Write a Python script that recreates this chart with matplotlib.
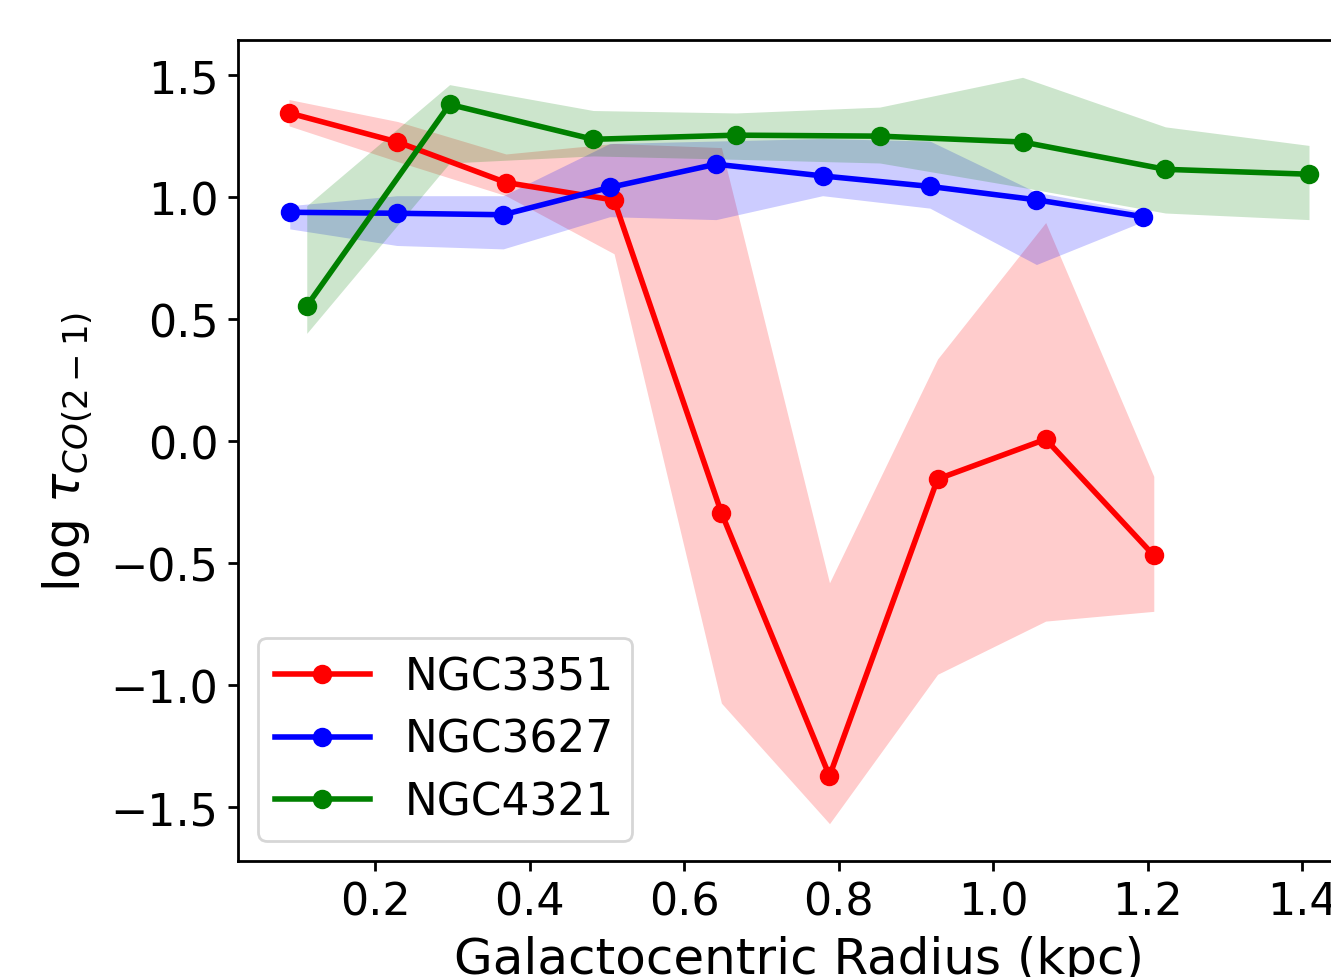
import matplotlib
matplotlib.use("Agg")
import matplotlib.pyplot as plt

# NGC3351
r_3351 = [0.088, 0.2285, 0.369, 0.509, 0.648, 0.788, 0.928, 1.068, 1.208]
tau_3351 = [1.345, 1.226, 1.060, 0.988, -0.293, -1.372, -0.155, 0.008, -0.468]
lo_3351 = [1.292, 1.146, 1.006, 0.768, -1.073, -1.567, -0.955, -0.737, -0.697]
hi_3351 = [1.400, 1.310, 1.177, 1.220, 1.203, -0.580, 0.337, 0.896, -0.144]

# NGC3627
r_3627 = [0.089, 0.2276, 0.3654, 0.5035, 0.641, 0.779, 0.918, 1.056, 1.194]
tau_3627 = [0.938, 0.934, 0.928, 1.040, 1.135, 1.087, 1.044, 0.989, 0.920]
lo_3627 = [0.870, 0.802, 0.788, 0.920, 0.908, 1.006, 0.955, 0.724, 0.900]
hi_3627 = [0.965, 1.006, 1.006, 1.220, 1.230, 1.240, 1.230, 1.020, 0.940]

# NGC4321
r_4321 = [0.111, 0.296, 0.482, 0.667, 0.853, 1.038, 1.223, 1.409]
tau_4321 = [0.554, 1.380, 1.237, 1.254, 1.250, 1.226, 1.114, 1.094]
lo_4321 = [0.442, 1.140, 1.169, 1.155, 1.140, 1.040, 0.935, 0.908]
hi_4321 = [0.965, 1.461, 1.355, 1.345, 1.369, 1.491, 1.288, 1.212]

labels = ["NGC3351", "NGC3627", "NGC4321"]
colors = ["red", "blue", "green"]
xticks = [0.2, 0.4, 0.6, 0.8, 1.0, 1.2, 1.4]
yticks = [-1.5, -1.0, -0.5, 0.0, 0.5, 1.0, 1.5]

fig = plt.figure(figsize=(6.655, 4.89), dpi=200)
ax = fig.add_axes([238 / 1331, 1 - 862 / 978, (1360 - 238) / 1331, (862 - 41) / 978])

series = [(r_3351, tau_3351, lo_3351, hi_3351),
          (r_3627, tau_3627, lo_3627, hi_3627),
          (r_4321, tau_4321, lo_4321, hi_4321)]

for (r, t, lo, hi), lab, c in zip(series, labels, colors):
    ax.plot(r, t, "o-", color=c, lw=2, ms=6, label=lab)
    ax.fill_between(r, lo, hi, color=c, alpha=0.2, lw=0)

ax.set_xlabel("Galactocentric Radius (kpc)", fontsize=18, labelpad=4)
ax.set_ylabel(r"log $\tau_{CO(2-1)}$", fontsize=17.5, labelpad=6)
ax.tick_params(labelsize=16, width=1.0)
for s in ax.spines.values():
    s.set_linewidth(1.0)
ax.set_yticks(yticks)
ax.set_xticks(xticks)
ax.legend(loc="lower left", fontsize=15.8, handlelength=2.15, labelspacing=0.45,
          borderaxespad=0.45)

fig.savefig("out.png", dpi=200)
